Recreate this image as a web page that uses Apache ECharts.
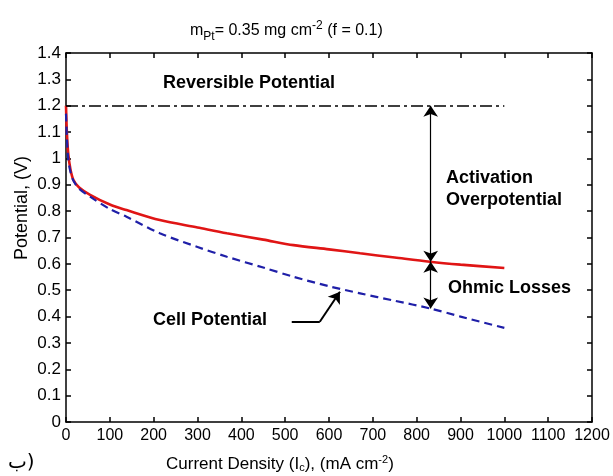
<!DOCTYPE html>
<html>
<head>
<meta charset="utf-8">
<script src="https://cdn.jsdelivr.net/npm/echarts@6/dist/echarts.min.js"></script>
<style>html,body{margin:0;padding:0;background:#fff}#c{width:613px;height:476px}</style>
</head>
<body>
<div id="c"></div>
<script>
// Data
const currentDensity = [0, 2, 5, 10, 17, 30, 55, 100, 138, 214, 300, 367, 450, 519, 600, 671, 750, 830, 900, 1000];
const activationCurve = [1.2, 1.1, 1.02, 0.96, 0.918, 0.89, 0.862, 0.825, 0.804, 0.766, 0.738, 0.716, 0.692, 0.671, 0.655, 0.640, 0.624, 0.608, 0.597, 0.584];
const cellPotential = [1.17, 1.08, 1.0, 0.95, 0.915, 0.885, 0.855, 0.808, 0.779, 0.716, 0.664, 0.627, 0.586, 0.551, 0.515, 0.488, 0.46, 0.431, 0.40, 0.357];
const reversiblePotential = 1.2;
const reversibleRange = [0, 1000];
const arrowX = 832;
const arrowRedV = 0.608;
const arrowBlueV = 0.431;
const cellArrow = [[515, 0.3805], [579, 0.3805], [625, 0.494]];
const xTicks = [0, 1200, 100];
const yTicks = [0, 1.4, 0.1];

const FONT = 'Liberation Sans';
const chart = echarts.init(document.getElementById('c'), null, {renderer: 'canvas'});
const pair = (xs, ys) => xs.map((x, i) => [x, ys[i]]);
const axisBase = {
  type: 'value',
  axisLine: {show: true, onZero: false, lineStyle: {color: '#000', width: 1.5}},
  axisTick: {show: true, inside: true, length: 5, lineStyle: {color: '#000', width: 1.5}},
  splitLine: {show: false}
};
const mk = (range, extra) => Object.assign({}, axisBase, {min: range[0], max: range[1], interval: range[2]}, extra);

chart.setOption({
  animation: false,
  backgroundColor: '#fff',
  grid: {left: 66, right: 21, top: 53, bottom: 54},
  xAxis: [
    mk(xTicks, {position: 'bottom', axisLabel: {color: '#000', fontFamily: FONT, fontSize: 16, margin: 6,
      formatter: v => String(Math.round(v))}}),
    mk(xTicks, {position: 'top', axisLabel: {show: false}})
  ],
  yAxis: [
    mk(yTicks, {position: 'left', axisLabel: {color: '#000', fontFamily: FONT, fontSize: 17, margin: 5,
      formatter: v => (Math.round(v * 10) / 10).toString()}}),
    mk(yTicks, {position: 'right', axisLabel: {show: false}})
  ],
  series: [
    {
      type: 'line', data: pair(currentDensity, activationCurve), showSymbol: false, smooth: 0.3,
      lineStyle: {color: '#e01515', width: 2.6}, z: 2,
      markLine: {
        silent: true, animation: false, label: {show: false}, symbolSize: 11,
        lineStyle: {color: '#000', width: 1.2, type: 'solid'},
        data: [
          [{coord: [reversibleRange[0], reversiblePotential], symbol: 'none', lineStyle: {type: [12, 4, 3, 4], width: 1.5}},
           {coord: [reversibleRange[1], reversiblePotential], symbol: 'none'}],
          [{coord: [arrowX, reversiblePotential], symbol: 'arrow'}, {coord: [arrowX, arrowRedV], symbol: 'arrow'}],
          [{coord: [arrowX, arrowRedV], symbol: 'arrow'}, {coord: [arrowX, arrowBlueV], symbol: 'arrow'}],
          [{coord: cellArrow[0], symbol: 'none', lineStyle: {width: 2}}, {coord: cellArrow[1], symbol: 'none'}],
          [{coord: cellArrow[1], symbol: 'none', lineStyle: {width: 2}}, {coord: cellArrow[2], symbol: 'arrow'}]
        ]
      }
    },
    {
      type: 'line', data: pair(currentDensity, cellPotential), showSymbol: false, smooth: 0.3,
      lineStyle: {color: '#1f1fa8', width: 2.2, type: [8, 5]}, z: 3
    }
  ],
  graphic: [
    {type: 'text', x: 190, y: 16, style: {
      text: '{m|m}{sub|Pt}{m|= 0.35 mg cm}{sup|-2}{m| (f = 0.1)}',
      rich: {
        m: {fontFamily: FONT, fontSize: 16, fill: '#000', lineHeight: 30},
        sub: {fontFamily: FONT, fontSize: 12, fill: '#000', padding: [12, 0, 0, 0], lineHeight: 30},
        sup: {fontFamily: FONT, fontSize: 12, fill: '#000', padding: [0, 0, 10, 0], lineHeight: 30}
      }}},
    {type: 'text', x: 166, y: 452, style: {
      text: '{m|Current Density (I}{sub|c}{m|), (mA cm}{sup|-2}{m|)}',
      rich: {
        m: {fontFamily: FONT, fontSize: 17, fill: '#000', lineHeight: 24},
        sub: {fontFamily: FONT, fontSize: 11, fill: '#000', padding: [8, 0, 0, 0], lineHeight: 24},
        sup: {fontFamily: FONT, fontSize: 11, fill: '#000', padding: [0, 0, 8, 0], lineHeight: 24}
      }}},
    {type: 'text', x: 22, y: 208, rotation: Math.PI / 2, style: {
      text: 'Potential, (V)', fontFamily: FONT, fontSize: 18, fill: '#000', align: 'center', verticalAlign: 'middle'}},
    {type: 'text', x: 8, y: 463, style: {text: 'ب)', fontFamily: 'DejaVu Sans', fontSize: 20, fill: '#000', verticalAlign: 'middle'}},
    {type: 'text', x: 163, y: 83, style: {text: 'Reversible Potential', fontFamily: FONT, fontSize: 18, fontWeight: 'bold', fill: '#000', verticalAlign: 'middle'}},
    {type: 'text', x: 446, y: 178, style: {text: 'Activation', fontFamily: FONT, fontSize: 18, fontWeight: 'bold', fill: '#000', verticalAlign: 'middle'}},
    {type: 'text', x: 446, y: 200, style: {text: 'Overpotential', fontFamily: FONT, fontSize: 18, fontWeight: 'bold', fill: '#000', verticalAlign: 'middle'}},
    {type: 'text', x: 448, y: 288, style: {text: 'Ohmic Losses', fontFamily: FONT, fontSize: 18, fontWeight: 'bold', fill: '#000', verticalAlign: 'middle'}},
    {type: 'text', x: 153, y: 320, style: {text: 'Cell Potential', fontFamily: FONT, fontSize: 18, fontWeight: 'bold', fill: '#000', verticalAlign: 'middle'}}
  ]
});
</script>
</body>
</html>
